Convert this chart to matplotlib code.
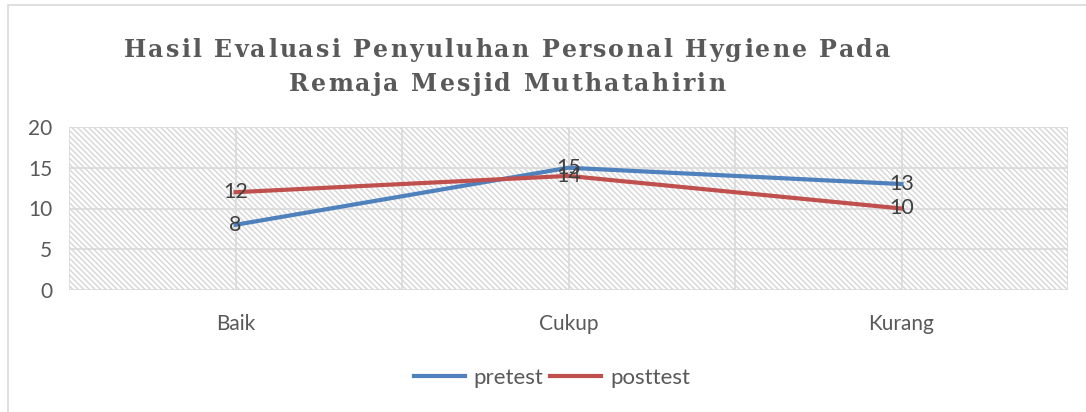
import matplotlib.pyplot as plt
from matplotlib.patches import Rectangle
from matplotlib.font_manager import FontProperties

categories = ["Baik", "Cukup", "Kurang"]
pretest = [8, 15, 13]
posttest = [12, 14, 10]
yticks = [0, 5, 10, 15, 20]
title_lines = ["Hasil Evaluasi Penyuluhan Personal Hygiene Pada", "Remaja Mesjid Muthatahirin"]

plt.rcParams['font.family'] = ['Lato', 'DejaVu Sans']
plt.rcParams['hatch.linewidth'] = 1.0

W, H = 1086, 412
fig = plt.figure(figsize=(W / 100, H / 100), dpi=100)

# chart border (light gray box, right and bottom run off the page)
fig.patches.append(Rectangle((8 / W, -0.1), 1.2, 1 - 5 / H + 0.1, transform=fig.transFigure,
                             fill=False, edgecolor='#d9d9d9', linewidth=1.2))

ax = fig.add_axes([69 / W, 1 - 290 / H, (1068 - 69) / W, (290 - 127) / H])
x = list(range(len(categories)))

# hatched plot area background
ax.add_patch(Rectangle((0, 0), 1, 1, transform=ax.transAxes, facecolor='white',
                       edgecolor='#d6d6d6', linewidth=0, hatch='\\' * 6, zorder=0))

ax.set_xlim(-0.5, len(categories) - 0.5)
ax.set_ylim(0, 20)
for yv in yticks:
    ax.axhline(yv, color='#d9d9d9', linewidth=1.2, zorder=1)
for xv in [-0.5, 0, 0.5, 1, 1.5, 2, 2.5]:
    ax.axvline(xv, color='#d9d9d9', linewidth=1.2, zorder=1)

ax.plot(x, pretest, color='#4f81bd', linewidth=3, label='pretest', zorder=3)
ax.plot(x, posttest, color='#c0504d', linewidth=3, label='posttest', zorder=3)

for xi, v in zip(x, pretest):
    ax.text(xi, v, str(v), ha='center', va='center', fontsize=15.5, color='#404040', zorder=4)
for xi, v in zip(x, posttest):
    ax.text(xi, v, str(v), ha='center', va='center', fontsize=15.5, color='#404040', zorder=4)

ax.set_xticks(x)
ax.set_xticklabels(categories)
ax.set_yticks(yticks)
ax.tick_params(length=0, labelsize=15, labelcolor='#595959')
ax.tick_params(axis='x', pad=17)
ax.tick_params(axis='y', pad=12)
for s in ax.spines.values():
    s.set_visible(False)

# title with letter spacing: place each character by hand
fp = FontProperties(family='DejaVu Serif', weight='bold', size=17)
renderer = fig.canvas.get_renderer()
track = 2.2
for line, base in zip(title_lines, [57, 91]):
    widths = [renderer.get_text_width_height_descent(line[:i], fp, ismath=False)[0] if i else 0
              for i in range(len(line) + 1)]
    total = widths[-1] + track * (len(line) - 1)
    x0 = 507 - total / 2
    for i, ch in enumerate(line):
        if ch == ' ':
            continue
        fig.text((x0 + widths[i] + track * i) / W, 1 - base / H, ch, ha='left', va='baseline',
                 fontproperties=fp, color='#595959')

fig.legend(loc='center', bbox_to_anchor=(552 / W, 1 - 378 / H), ncol=2, frameon=False,
           fontsize=16, labelcolor='#595959', handlelength=2.3, handletextpad=0.4, columnspacing=0.3)

fig.savefig('out.png', dpi=100)
